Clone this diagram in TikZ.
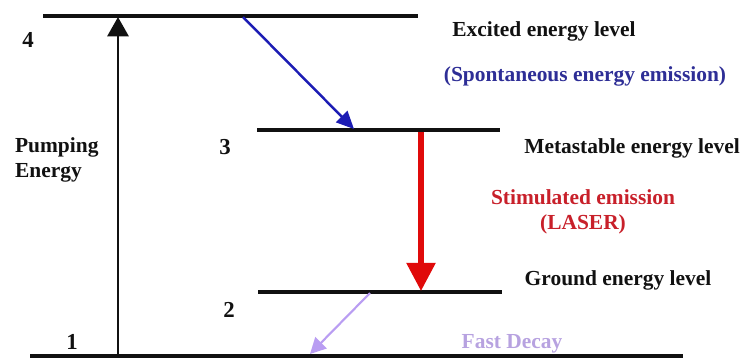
\documentclass[tikz,border=0pt]{standalone}
\usepackage{fontspec}
\setmainfont{Liberation Serif}
\usetikzlibrary{arrows.meta,positioning}
\definecolor{ink}     {HTML}{111111}
\definecolor{spont}   {HTML}{1C1CB4}
\definecolor{spontTx} {HTML}{2E2E96}
\definecolor{laser}   {HTML}{E00A0A}
\definecolor{laserTx} {HTML}{C8202A}
\definecolor{decay}   {HTML}{B99DF2}
\definecolor{decayTx} {HTML}{B7A2E0}

\begin{document}
\begin{tikzpicture}[
  x=0.02cm, y=-0.02cm,
  every node/.style={font=\fontsize{12.2}{14.5}\selectfont\bfseries, inner sep=1pt},
  lvl/.style={draw=ink, line width=2pt},
  num/.style={font=\fontsize{13}{15}\selectfont\bfseries, text=ink},
  lab/.style={text=ink, align=center},
  pump/.style={ink, line width=1.6pt, -{Triangle[width=12pt,length=11pt]}},
  spontarr/.style={spont, line width=1.4pt, -{Triangle[width=9pt,length=10pt]}},
  laserarr/.style={laser, line width=3pt, -{Triangle[width=16pt,length=16pt]}},
  decayarr/.style={decay, line width=1.2pt, -{Triangle[width=9pt,length=9pt]}}
]
\useasboundingbox (0,0) rectangle (745,360);
% energy levels
\coordinate (l4a) at (43,16);   \coordinate (l4b) at (418,16);
\coordinate (l3a) at (257,130); \coordinate (l3b) at (500,130);
\coordinate (l2a) at (258,292); \coordinate (l2b) at (502,292);
\coordinate (l1a) at (30,356);  \coordinate (l1b) at (683,356);
\draw[lvl] (l4a) -- (l4b);
\draw[lvl] (l3a) -- (l3b);
\draw[lvl] (l2a) -- (l2b);
\draw[lvl] (l1a) -- (l1b);
% level numbers
\node[num] (n4) at (28,40) {4};
\node[num] (n3) at (225,147) {3};
\node[num] (n2) at (229,310) {2};
\node[num] (n1) at (72,342) {1};
% transitions
\coordinate (pb) at (118,355);  \coordinate (pt) at (118,17);
\coordinate (sb) at (243,17);   \coordinate (se) at (354,129);
\coordinate (rb) at (421,132);  \coordinate (re) at (421,291);
\coordinate (fb) at (370,293);  \coordinate (fe) at (310,354);
\draw[pump] (pb) -- (pt);
\draw[spontarr] (sb) -- (se);
\draw[laserarr] (rb) -- (re);
\draw[decayarr] (fb) -- (fe);
% labels
\node[lab, align=left, anchor=west] (pmp) at (13,160) {Pumping\\Energy};
\node[lab] (exc) at (544,31) {Excited energy level};
\node[lab, text=spontTx] (spn) at (585,76) {(Spontaneous energy emission)};
\node[lab] (meta) at (632,148) {Metastable energy level};
\node[lab, text=laserTx] (stim) at (583,212) {Stimulated emission\\(LASER)};
\node[lab] (grd) at (618,280) {Ground energy level};
\node[lab, text=decayTx] (fst) at (512,344) {Fast Decay};
\end{tikzpicture}
\end{document}
